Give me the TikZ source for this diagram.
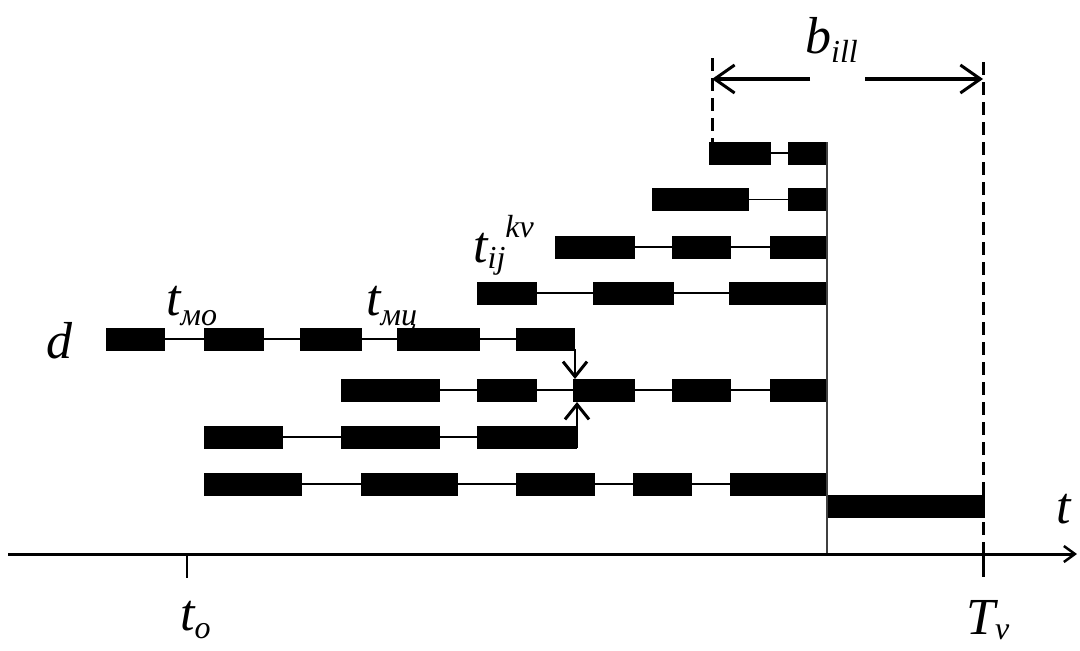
\documentclass[tikz,border=0pt]{standalone}
\usepackage{fontspec}
\setmainfont{Liberation Serif}
\usetikzlibrary{arrows.meta}
\tikzstyle{chart} = [x = 1pt, y = -1pt]
\tikzstyle{opStyle} = [fill=black]
\tikzstyle{linkLine} = [line width = 1.8pt]
\tikzstyle{endLine} = [color=black!75, line width = 1.8pt]
\tikzstyle{axisLine} = [line width = 3pt, -{Straight Barb[length=11pt, width=16pt, line width=2.5pt]}]
\tikzstyle{boundLine} = [line width = 3pt, dash pattern = on 13pt off 7pt]
\tikzstyle{mergeArrow} = [line width = 2.5pt, -{Straight Barb[length=15pt, width=24pt, line width=3pt]}]
\tikzstyle{spanArrow} = [line width = 3.5pt, -{Straight Barb[length=20pt, width=28pt, line width=3pt]}]
\tikzstyle{mainText} = [font=\fontsize{52}{60}\selectfont\itshape, inner sep=0pt, anchor=base west]
\newcommand{\subText}[2]{{\fontsize{32}{36}\selectfont\raisebox{#1}{#2}}}
\newcommand{\halfH}{11.5}
\newcommand{\opBlock}[3]{\fill [opStyle] (#1, #3 - \halfH) rectangle (#2, #3 + \halfH);}
\newcommand{\opRow}[4]{
  \draw [linkLine] (#2, #1) -- (#3, #1);
  \foreach \from/\to in {#4} {
    \opBlock{\from}{\to}{#1}
  }
}

\begin{document}
\begin{tikzpicture}[chart]
  \useasboundingbox (0,0) rectangle (1080,651);
  % operations of the orders
  \opRow{153}{709}{828}{709/771, 788/828}
  \opRow{199.5}{652}{828}{652/749, 788/828}
  \opRow{247}{555}{828}{555/635, 672/731, 770/828}
  \opRow{293}{477}{828}{477/537, 593/674, 729/828}
  \opRow{339}{106}{575}{106/165, 204/264, 300/362, 397/480, 516/575}
  \opRow{390}{341}{827}{341/440, 477/537, 573/635, 672/731, 770/827}
  \opRow{437}{204}{577}{204/283, 341/440, 477/577}
  \opRow{484}{204}{827}{204/302, 361/458, 516/595, 633/692, 730/827}
  \fill [opStyle] (827,495) rectangle (985,518);
  % assembly point
  \coordinate (topOut) at (575,349);
  \coordinate (topIn) at (575,379);
  \coordinate (lowOut) at (577,448);
  \coordinate (lowIn) at (577,402);
  \draw [mergeArrow] (topOut) -- (topIn);
  \draw [mergeArrow] (lowOut) -- (lowIn);
  % time axis
  \coordinate (axisStart) at (8,554);
  \coordinate (axisEnd) at (1077,554);
  \coordinate (endTop) at (827,142);
  \coordinate (endFoot) at (827,554);
  \draw [endLine] (endTop) -- (endFoot);
  \draw [axisLine] (axisStart) -- (axisEnd);
  \coordinate (startTick) at (187,554);
  \coordinate (startFoot) at (187,578);
  \draw [linkLine] (startTick) -- (startFoot);
  \coordinate (dueTop) at (983,62);
  \coordinate (dueTick) at (983,554);
  \coordinate (dueFoot) at (983,577);
  \draw [boundLine] (dueTop) -- (dueTick);
  \draw [line width=3pt] (dueTick) -- (dueFoot);
  % reserve
  \coordinate (spanTop) at (712,58);
  \coordinate (spanFoot) at (712,142);
  \draw [boundLine] (spanTop) -- (spanFoot);
  \coordinate (spanLeft) at (712,79);
  \coordinate (spanMidL) at (810,79);
  \coordinate (spanMidR) at (865,79);
  \coordinate (spanRight) at (983,79);
  \draw [spanArrow] (spanMidL) -- (spanLeft);
  \draw [spanArrow] (spanMidR) -- (spanRight);
  % labels
  \node [mainText] (dLabel) at (46,358) {d};
  \node [mainText] (moLabel) at (166,315) {t\subText{-10pt}{мо}};
  \node [mainText] (mcLabel) at (366,315) {t\subText{-10pt}{мц}};
  \node [mainText] (tijLabel) at (473,262) {t\subText{-6pt}{ij}\subText{25pt}{kv}};
  \node [mainText] (bLabel) at (805,53) {b\subText{-9pt}{ill}};
  \node [mainText] (toLabel) at (180,630) {t\subText{-8pt}{o}};
  \node [mainText] (TvLabel) at (966,634) {T\subText{-5pt}{v}};
  \node [mainText] (tLabel) at (1056,523) {t};
\end{tikzpicture}
\end{document}
